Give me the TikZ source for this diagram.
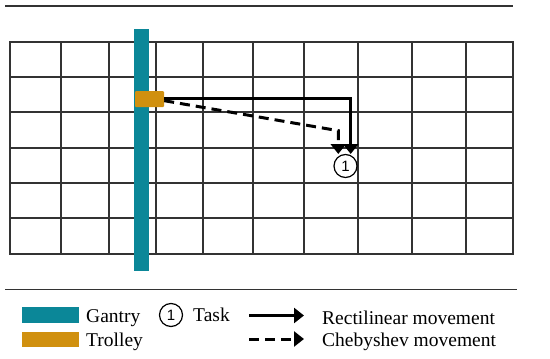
\documentclass[tikz,border=0pt]{standalone}
\usepackage{fontspec}
\setmainfont{Liberation Serif}
\newfontfamily\digitfont{Liberation Sans}
\usetikzlibrary{arrows.meta}
\definecolor{gantrycol}{HTML}{0B8798}
\definecolor{trolleycol}{HTML}{D0900F}
\definecolor{gridcol}{HTML}{333333}
\tikzset{
  gridline/.style={draw=gridcol, line width=2pt},
  rule/.style={draw=gridcol, line width=1.5pt},
  move/.style={draw=black, line width=3pt, -{Triangle[width=15pt,length=10pt]}},
  chebmove/.style={move, dash pattern=on 10pt off 6pt},
  tasknode/.style={circle, draw=black, line width=1.2pt, minimum size=23pt, inner sep=0pt, font=\digitfont\fontsize{15}{15}\selectfont},
  legtext/.style={anchor=base west, inner sep=0pt, font=\fontsize{19.5}{22}\selectfont},
}
\begin{document}
\begin{tikzpicture}[x=1pt,y=-1pt]
\useasboundingbox (0,0) rectangle (550,359);
% top rule
\draw[rule] (5,6) -- (513,6);
% grid
\foreach \gx in {10,60.7,108.7,155.7,203,253.3,304,358,412.3,466.3,513.3}
  \draw[gridline] (\gx,42) -- (\gx,254);
\foreach \gy in {42,77.3,112.3,147.7,183.3,218.3,254}
  \draw[gridline] (9,\gy) -- (514.3,\gy);
% gantry
\fill[gantrycol] (134,29) rectangle (149.3,270.7);
% trolley
\node[fill=trolleycol, minimum width=29pt, minimum height=16pt, inner sep=0pt, rounded corners=1pt] (trolley) at (149.5,99.2) {};
% task
\node[tasknode] (task) at (345.5,166) {1};
\coordinate (rc) at (350.7,98.5);
\coordinate (re) at (350.7,154);
\coordinate (dc) at (338.3,130.7);
\coordinate (de) at (338.3,154);
\draw[move, line cap=butt] (trolley.east |- rc) -- (rc) -- (re);
\draw[chebmove] ([yshift=-1.5pt]trolley.east) -- (dc) -- (de);
% legend rule
\draw[rule] (5,289.3) -- (517,289.3);
% legend
\fill[gantrycol] (22,307) rectangle (79,322.7);
\fill[trolleycol] (22,331.7) rectangle (79,347);
\node[legtext] (lg) at (86,322.3) {Gantry};
\node[legtext] (lt) at (86,346.5) {Trolley};
\node[tasknode] (ltask) at (171,315) {1};
\node[legtext] (ltt) at (193,321.7) {Task};
\coordinate (la1) at (249,315.5);
\coordinate (la2) at (304,315.5);
\coordinate (lb1) at (249,339);
\coordinate (lb2) at (304,339);
\draw[move] (la1) -- (la2);
\draw[chebmove] (lb1) -- (lb2);
\node[legtext] (lr) at (322,324) {Rectilinear movement};
\node[legtext] (lc) at (322,346.8) {Chebyshev movement};
\end{tikzpicture}
\end{document}
